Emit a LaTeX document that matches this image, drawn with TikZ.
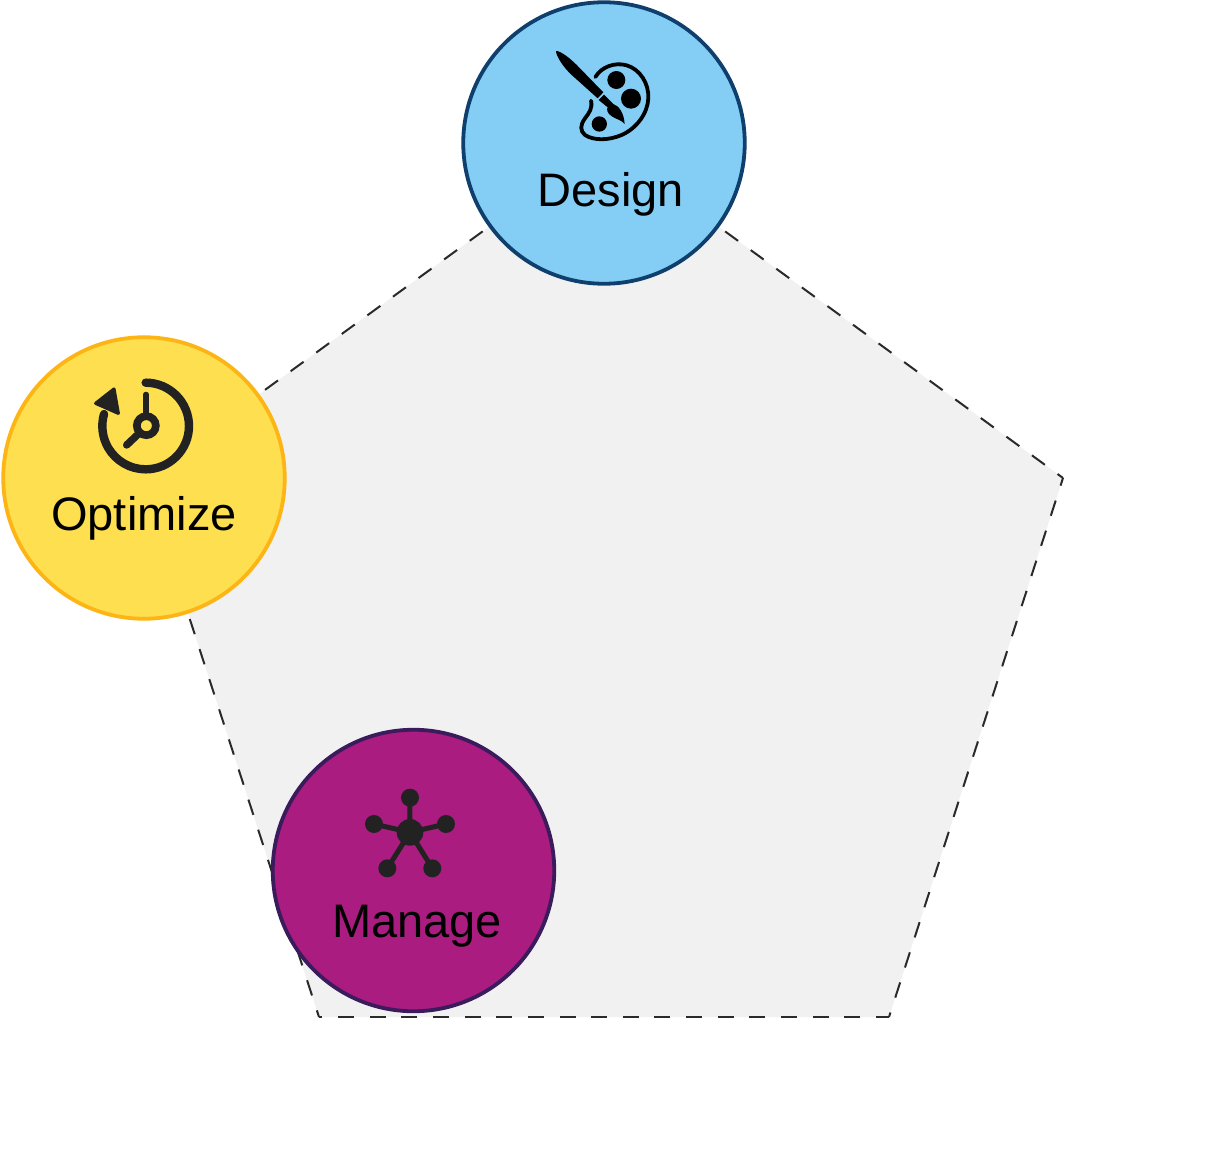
\documentclass[tikz,border=0pt]{standalone}
\usepackage{fontspec}
\setmainfont{Liberation Sans}
\definecolor{penta}{HTML}{F1F1F1}
\definecolor{dashc}{HTML}{2A2A2A}
\definecolor{blueF}{HTML}{84CEF6}
\definecolor{blueD}{HTML}{0F3F6C}
\definecolor{yelF}{HTML}{FDDF50}
\definecolor{yelD}{HTML}{FDB515}
\definecolor{purF}{HTML}{AA1C80}
\definecolor{purD}{HTML}{3A1B5C}
\definecolor{ico}{HTML}{222222}
\tikzset{
  x=1pt,y=-1pt,
  stage/.style={circle,minimum size=281.5pt,inner sep=0pt,line width=3.8pt,draw=#1},
  tag/.style={font=\fontsize{47}{50}\selectfont,text=black,inner sep=0pt,anchor=base},
  pentaedge/.style={draw=dashc,line width=2pt,dash pattern=on 16pt off 15.65pt,dash phase=#1},
}
\begin{document}
\begin{tikzpicture}
\useasboundingbox (0,0) rectangle (1205,1159);
\coordinate (p1) at (604,143);
\coordinate (p2) at (1063,478);
\coordinate (p3) at (889,1017);
\coordinate (p4) at (319,1017);
\coordinate (p5) at (144,478);
\fill[penta] (p1) -- (p2) -- (p3) -- (p4) -- (p5) -- cycle;
\draw[pentaedge=8.25pt] (p1) -- (p2);
\draw[pentaedge=8pt] (p2) -- (p3);
\draw[pentaedge=3pt] (p3) -- (p4);
\draw[pentaedge=9pt] (p4) -- (p5);
\draw[pentaedge=8.5pt] (p5) -- (p1);

\node[stage=blueD,fill=blueF] (design) at (604,143) {};
\node[stage=yelD,fill=yelF] (optimize) at (144,478) {};
\node[stage=purD,fill=purF] (manage) at (413.5,870.5) {};

\node[tag] (tdesign) at (611,206) {Design};
\node[tag] (toptimize) at (144,530) {Optimize};
\node[tag] (tmanage) at (417,937) {Manage};

% palette icon
\begin{scope}[shift={(530,30)},x=0.3333pt,y=-0.3333pt]
\fill[black] (78,63) .. controls (92,62) and (125,88) .. (150,115) -- (220,187) -- (203,205) -- (125,135) .. controls (100,112) and (78,78) .. (78,63) -- cycle;
\fill[black] (206,210) -- (222,194) -- (250,222) .. controls (268,228) and (282,250) .. (284,282) .. controls (275,270) and (258,268) .. (244,258) .. controls (232,250) and (229,238) .. (233,232) -- cycle;
\draw[black,line width=3.8pt,line cap=round] (196,141) .. controls (215,110) and (255,96) .. (290,106) .. controls (330,118) and (357,160) .. (355,205) .. controls (353,250) and (320,295) .. (275,315) .. controls (235,332) and (190,332) .. (165,315) .. controls (150,303) and (150,285) .. (165,265) .. controls (178,248) and (188,235) .. (183,212);
\fill[black] (259,150) circle[radius=27];
\fill[black] (303,206) circle[radius=30];
\fill[black] (208,282) circle[radius=23];
\end{scope}

% clock icon
\begin{scope}[shift={(80,365)},x=0.3333pt,y=-0.3333pt]
\draw[ico,line width=8.4pt,line cap=round] (197,53) arc[start angle=-90,end angle=196,radius=130];
\fill[ico,draw=ico,line width=3.2pt,line join=round] (47,115) -- (102,72) -- (115,145) -- cycle;
\draw[ico,line width=5.2pt,line cap=round] (198,88) -- (198,150);
\draw[ico,line width=7.4pt,line cap=round] (140,240) -- (175,207);
\draw[ico,line width=7.7pt] (199,182) circle[radius=28.5];
\end{scope}

% network icon
\begin{scope}[shift={(350,775)},x=0.3333pt,y=-0.3333pt]
\draw[ico,line width=5pt] (180,172) -- (180,68) (180,172) -- (72,147) (180,172) -- (288,147) (180,172) -- (112,280) (180,172) -- (247,280);
\fill[ico] (180,172) circle[radius=40];
\fill[ico] (180,68) circle[radius=27];
\fill[ico] (72,147) circle[radius=27];
\fill[ico] (288,147) circle[radius=27];
\fill[ico] (112,280) circle[radius=27];
\fill[ico] (247,280) circle[radius=27];
\end{scope}
\end{tikzpicture}
\end{document}
